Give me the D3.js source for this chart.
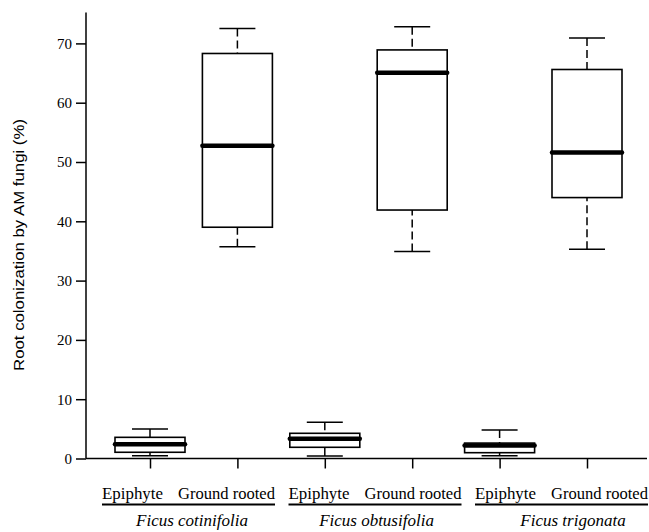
<!DOCTYPE html>
<html>
<head>
<meta charset="utf-8">
<script src="https://cdn.jsdelivr.net/npm/d3@7"></script>
<style>
  body { margin: 0; background: #fff; }
  svg { display: block; }
</style>
</head>
<body>
<script>
const width = 649, height = 532

// groups and values
const species = ["Ficus cotinifolia", "Ficus obtusifolia", "Ficus trigonata"]
const habitats = ["Epiphyte", "Ground rooted"]
const boxKeys = ["cot-E", "cot-G", "obt-E", "obt-G", "tri-E", "tri-G"]
const lowWhisker = [0.47, 35.7, 0.42, 34.9, 0.47, 35.3]
const lowerQuart = [1.05, 39.0, 1.89, 41.9, 0.98, 44.0]
const medians = [2.39, 52.75, 3.34, 65.06, 2.2, 51.6]
const upperQuart = [3.57, 68.3, 4.25, 68.9, 2.6, 65.6]
const highWhisker = [4.97, 72.5, 6.1, 72.8, 4.8, 70.9]
const yTicks = [0, 10, 20, 30, 40, 50, 60, 70]

// species names sit a little off the underline centres in the original
const speciesNudge = [4, 2, 12]

const boxes = boxKeys.map((k, i) => ({
    key: k,
    lo: lowWhisker[i], q1: lowerQuart[i], med: medians[i],
    q3: upperQuart[i], hi: highWhisker[i]
}))

const serif = "'Liberation Serif', 'Times New Roman', serif"

const svg = d3.select("body").append("svg")
    .attr("width", width)
    .attr("height", height)

const y = d3.scaleLinear().domain([0, 70]).range([458.5, 43.4])
const x = d3.scalePoint().domain(boxKeys).range([150, 587])
const labelX = d3.scalePoint().domain(species).range([188, 561])
const boxW = 70, capW = 36

// y axis
const yAxis = svg.append("g")
    .attr("transform", "translate(86,0)")
    .call(d3.axisLeft(y).tickValues(yTicks).tickSize(10).tickPadding(4).tickFormat(d3.format("d")))
    .attr("font-family", serif)
    .attr("font-size", 15)
yAxis.select(".domain").attr("d", `M0,${y(75.2)}V${y(0)}`)
yAxis.selectAll("line,path").attr("stroke", "#000").attr("stroke-width", 1.5)
yAxis.selectAll("text").attr("fill", "#000")

// x axis
const xAxis = svg.append("g")
    .attr("transform", `translate(0,${y(0)})`)
    .call(d3.axisBottom(x).tickSize(10).tickFormat(""))
xAxis.select(".domain").attr("d", "M86,0H647")
xAxis.selectAll("line,path").attr("stroke", "#000").attr("stroke-width", 1.5)

// boxes
const b = svg.append("g").selectAll("g").data(boxes).enter().append("g")

b.append("line") // lower whisker
    .attr("x1", d => x(d.key)).attr("x2", d => x(d.key))
    .attr("y1", d => y(d.lo)).attr("y2", d => y(d.q1))
    .attr("stroke", "#000").attr("stroke-width", 1.5).attr("stroke-dasharray", "8,4")
b.append("line") // upper whisker
    .attr("x1", d => x(d.key)).attr("x2", d => x(d.key))
    .attr("y1", d => y(d.hi)).attr("y2", d => y(d.q3))
    .attr("stroke", "#000").attr("stroke-width", 1.5).attr("stroke-dasharray", "8,4")
b.selectAll(".cap").data(d => [d.lo, d.hi].map(v => ({key: d.key, v}))).enter()
    .append("line")
    .attr("class", "cap")
    .attr("x1", d => x(d.key) - capW / 2).attr("x2", d => x(d.key) + capW / 2)
    .attr("y1", d => y(d.v)).attr("y2", d => y(d.v))
    .attr("stroke", "#000").attr("stroke-width", 1.5)
b.append("rect")
    .attr("x", d => x(d.key) - boxW / 2)
    .attr("width", boxW)
    .attr("y", d => y(d.q3))
    .attr("height", d => y(d.q1) - y(d.q3))
    .attr("fill", "#fff").attr("stroke", "#000").attr("stroke-width", 1.6)
b.append("line") // median
    .attr("x1", d => x(d.key) - boxW / 2).attr("x2", d => x(d.key) + boxW / 2)
    .attr("y1", d => y(d.med)).attr("y2", d => y(d.med))
    .attr("stroke", "#000").attr("stroke-width", 4.5).attr("stroke-linecap", "round")

// group labels
const lab = svg.append("g").selectAll("g").data(species).enter().append("g")
    .attr("transform", d => `translate(${labelX(d)},0)`)

lab.append("text")
    .attr("x", -86).attr("y", 499)
    .attr("font-family", serif).attr("font-size", 16)
    .attr("textLength", 61).attr("lengthAdjust", "spacingAndGlyphs")
    .text(habitats[0])
lab.append("text")
    .attr("x", 87).attr("y", 499)
    .attr("text-anchor", "end")
    .attr("font-family", serif).attr("font-size", 16)
    .attr("textLength", 97).attr("lengthAdjust", "spacingAndGlyphs")
    .text(habitats[1])
lab.append("line")
    .attr("x1", -86).attr("x2", 87)
    .attr("y1", 504.5).attr("y2", 504.5)
    .attr("stroke", "#000").attr("stroke-width", 2.2)
lab.append("text")
    .attr("x", (d, i) => speciesNudge[i])
    .attr("y", 526)
    .attr("text-anchor", "middle")
    .attr("font-family", serif).attr("font-size", 17)
    .attr("font-style", "italic")
    .text(d => d)

// y title
svg.append("text")
    .attr("transform", `translate(24,${(118 + 372) / 2}) rotate(-90)`)
    .attr("text-anchor", "middle")
    .attr("font-family", "'Liberation Sans', Arial, sans-serif")
    .attr("font-size", 15)
    .attr("textLength", 252).attr("lengthAdjust", "spacingAndGlyphs")
    .text("Root colonization by AM fungi (%)")
</script>
</body>
</html>
